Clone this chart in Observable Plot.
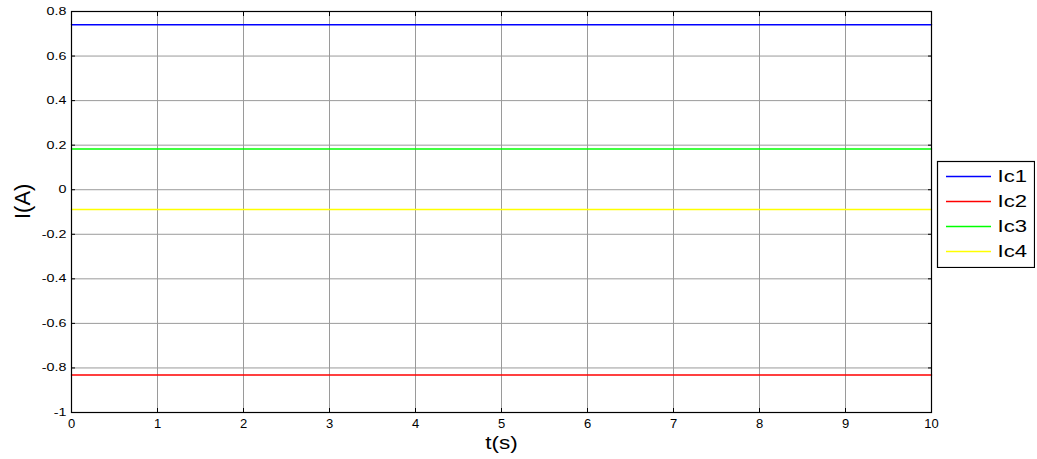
<!DOCTYPE html>
<html>
<head>
<meta charset="utf-8">
<script src="https://cdn.jsdelivr.net/npm/d3@7"></script>
<script src="https://cdn.jsdelivr.net/npm/@observablehq/plot@0.6"></script>
<style>
  html, body { margin: 0; padding: 0; background: #fff; }
  #wrap { position: relative; width: 1037px; height: 459px; }
  #legend { position: absolute; left: 936px; top: 160px; }
</style>
</head>
<body>
<div id="wrap"></div>
<script>
// Data
const time = [0, 10];
const ic1 = [0.74, 0.74];
const ic2 = [-0.832, -0.832];
const ic3 = [0.1825, 0.1825];
const ic4 = [-0.089, -0.089];
const seriesNames = ["Ic1", "Ic2", "Ic3", "Ic4"];
const seriesColors = ["#0000ff", "#ff0000", "#00ff00", "#ffff00"];
const xTicks = [0, 1, 2, 3, 4, 5, 6, 7, 8, 9, 10];
const yTicks = [-1, -0.8, -0.6, -0.4, -0.2, 0, 0.2, 0.4, 0.6, 0.8];
const xLabel = "t(s)";
const yLabel = "I(A)";

const seriesValues = [ic1, ic2, ic3, ic4];
const rows = [];
seriesNames.forEach((name, i) => {
  time.forEach((t, j) => rows.push({series: name, t, v: seriesValues[i][j]}));
});

const fmt = d => d === 0 ? "0" : String(d);
const FONT = "'Liberation Sans', Arial, sans-serif";

const chart = Plot.plot({
  width: 1037,
  height: 459,
  marginLeft: 71,
  marginRight: 106,
  marginTop: 11,
  marginBottom: 47,
  style: {fontFamily: FONT, background: "#fff", color: "#000"},
  x: {domain: [0, 10]},
  y: {domain: [-1, 0.8]},
  color: {domain: seriesNames, range: seriesColors},
  marks: [
    Plot.gridX(xTicks, {stroke: "#9a9a9a", strokeOpacity: 1}),
    Plot.gridY(yTicks, {stroke: "#9a9a9a", strokeOpacity: 1}),
    Plot.line(rows, {x: "t", y: "v", z: "series", stroke: "series", strokeWidth: 1.5}),
    Plot.frame({stroke: "#000", strokeWidth: 1.2}),
    // inward ticks on all four sides
    Plot.axisX(xTicks, {anchor: "bottom", tickSize: 4, dy: -4, tickFormat: () => "", label: null, stroke: "#000"}),
    Plot.axisX(xTicks, {anchor: "top", tickSize: 4, dy: 4, tickFormat: () => "", label: null, stroke: "#000"}),
    Plot.axisY(yTicks, {anchor: "left", tickSize: 4, dx: 4, tickFormat: () => "", label: null, stroke: "#000"}),
    Plot.axisY(yTicks, {anchor: "right", tickSize: 4, dx: -4, tickFormat: () => "", label: null, stroke: "#000"}),
    // tick labels
    Plot.axisX(xTicks, {anchor: "bottom", tickSize: 0, tickPadding: 6, tickFormat: fmt, label: null, fontSize: 13, fill: "#000"}),
    Plot.axisY(yTicks, {anchor: "left", tickSize: 0, tickPadding: 5, tickFormat: fmt, label: null, fontSize: 11, fill: "#000"}),
    // axis titles
    Plot.text([xLabel], {text: d => d, frameAnchor: "bottom", dy: 36, fontSize: 18, fill: "#000"}),
    Plot.text([yLabel], {text: d => d, frameAnchor: "left", rotate: -90, dx: -49, dy: 7, fontSize: 22, fill: "#000"})
  ]
});

function stretchText(nodes, s) {
  nodes.each(function() {
    const t = this.getAttribute("transform") || "";
    this.setAttribute("transform", t + ` scale(${s},1)`);
  });
}
// mimic the horizontally stretched MATLAB text
const yTickTexts = new Set(yTicks.map(fmt));
stretchText(d3.select(chart).selectAll('g[aria-label="y-axis tick label"] text').filter(function() { return yTickTexts.has(this.textContent); }), 1.3);
stretchText(d3.select(chart).selectAll("text").filter(function() { return this.textContent === xLabel; }), 1.25);

// legend as a small separate Plot
const legendPlot = Plot.plot({
  width: 99,
  height: 108,
  margin: 1,
  style: {fontFamily: FONT, background: "#fff", color: "#000"},
  x: {axis: null},
  y: {type: "point", domain: seriesNames, range: [15, 92], padding: 0, axis: null},
  marks: [
    Plot.frame({stroke: "#000", strokeWidth: 1.2, fill: "#fff"}),
    Plot.ruleY(seriesNames, {y: d => d, stroke: (d, i) => seriesColors[i], strokeWidth: 1.5, insetLeft: 9, insetRight: 43}),
    Plot.text(seriesNames, {y: d => d, text: d => d, frameAnchor: "left", dx: 60, textAnchor: "start", fontSize: 17, fill: "#000"})
  ]
});
stretchText(d3.select(legendPlot).selectAll("text").filter(function() { return seriesNames.includes(this.textContent); }), 1.3);

const wrap = document.getElementById("wrap");
wrap.appendChild(chart);
const lg = document.createElement("div");
lg.id = "legend";
lg.appendChild(legendPlot);
wrap.appendChild(lg);
</script>
</body>
</html>
